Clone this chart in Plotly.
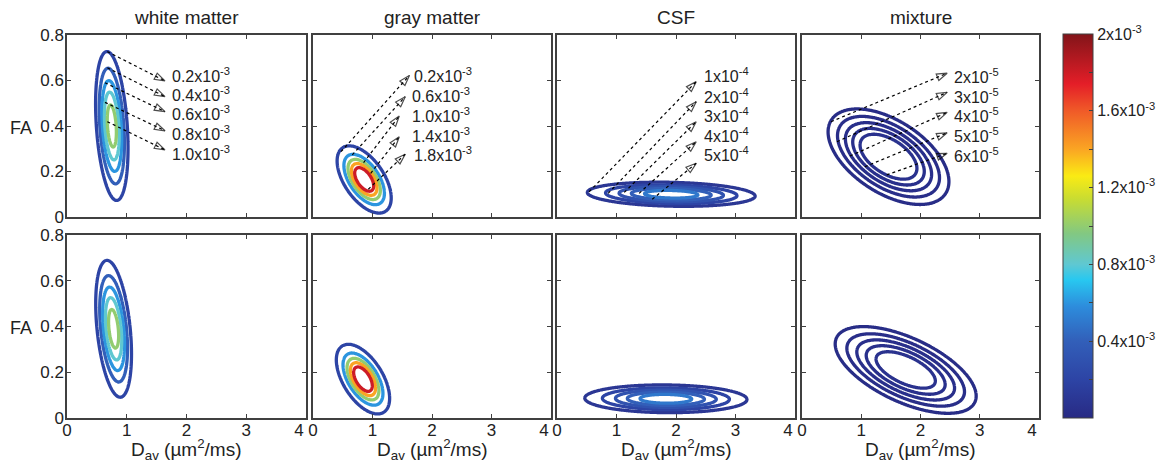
import numpy as np
import plotly.graph_objects as go
from plotly.colors import sample_colorscale

W, H = 1166, 464

# ---------------- data ----------------
col_titles = ["white matter", "gray matter", "CSF", "mixture"]

# bivariate Gaussian density parameters for each panel (top row, then bottom row)
mu_dav = [0.75, 0.86, 1.92, 1.46, 0.78, 0.84, 1.83, 1.75]
mu_fa = [0.40, 0.165, 0.10, 0.265, 0.39, 0.17, 0.084, 0.21]
sd_dav = [0.145, 0.203, 0.745, 0.607, 0.16, 0.20, 0.72, 0.728]
sd_fa = [0.175, 0.066, 0.028, 0.125, 0.16, 0.068, 0.032, 0.116]
rho = [-0.30, -0.55, -0.15, -0.52, -0.37, -0.55, -0.05, -0.60]
peak = [1.15e-3, 2.45e-3, 6.0e-4, 8.2e-5, 1.15e-3, 2.45e-3, 6.0e-4, 7.6e-5]

# contour levels per column
levels = [
    [0.2e-3, 0.4e-3, 0.6e-3, 0.8e-3, 1.0e-3],
    [0.2e-3, 0.6e-3, 1.0e-3, 1.4e-3, 1.8e-3],
    [1e-4, 2e-4, 3e-4, 4e-4, 5e-4],
    [2e-5, 3e-5, 4e-5, 5e-5, 6e-5],
]

# level labels (top row)
level_labels = [
    ["0.2x10<sup>-3</sup>", "0.4x10<sup>-3</sup>", "0.6x10<sup>-3</sup>", "0.8x10<sup>-3</sup>", "1.0x10<sup>-3</sup>"],
    ["0.2x10<sup>-3</sup>", "0.6x10<sup>-3</sup>", "1.0x10<sup>-3</sup>", "1.4x10<sup>-3</sup>", "1.8x10<sup>-3</sup>"],
    ["1x10<sup>-4</sup>", "2x10<sup>-4</sup>", "3x10<sup>-4</sup>", "4x10<sup>-4</sup>", "5x10<sup>-4</sup>"],
    ["2x10<sup>-5</sup>", "3x10<sup>-5</sup>", "4x10<sup>-5</sup>", "5x10<sup>-5</sup>", "6x10<sup>-5</sup>"],
]
# marker dots on contours
dot_x = [[0.675, 0.675, 0.636, 0.636, 0.675],
         [0.47, 0.66, 0.85, 0.97, 0.93],
         [0.54, 0.86, 1.13, 1.38, 1.60],
         [0.49, 0.59, 0.81, 1.06, 1.43]]
dot_y = [[0.727, 0.656, 0.590, 0.504, 0.419],
         [0.287, 0.273, 0.239, 0.192, 0.122],
         [0.111, 0.104, 0.108, 0.104, 0.078],
         [0.419, 0.331, 0.268, 0.221, 0.185]]
# arrow heads
head_x = [[1.64, 1.64, 1.64, 1.64, 1.64],
          [1.62, 1.55, 1.45, 1.45, 1.55],
          [2.34, 2.34, 2.34, 2.34, 2.34],
          [2.45, 2.45, 2.45, 2.45, 2.45]]
head_y = [[0.598, 0.529, 0.463, 0.379, 0.295],
          [0.622, 0.529, 0.444, 0.353, 0.276],
          [0.595, 0.507, 0.419, 0.331, 0.236],
          [0.632, 0.548, 0.460, 0.370, 0.280]]
# label anchors
label_x = [[1.72, 1.72, 1.72, 1.72, 1.72],
           [1.67, 1.63, 1.63, 1.63, 1.67],
           [2.43, 2.43, 2.43, 2.43, 2.43],
           [2.53, 2.53, 2.53, 2.53, 2.53]]
label_y = [[0.624, 0.539, 0.456, 0.368, 0.283],
           [0.624, 0.536, 0.448, 0.360, 0.277],
           [0.624, 0.533, 0.448, 0.360, 0.277],
           [0.620, 0.532, 0.448, 0.360, 0.273]]

x_ticks = [0, 1, 2, 3, 4]
x_ticktext = ["0", "1", "2", "3", "4"]
y_ticks = [0, 0.2, 0.4, 0.6, 0.8]
cbar_ticks = [0.2e-3, 0.4e-3, 0.6e-3, 0.8e-3, 1.0e-3, 1.2e-3, 1.4e-3, 1.6e-3, 1.8e-3, 2.0e-3]
cbar_text = ["", "0.4x10<sup>-3</sup>", "", "0.8x10<sup>-3</sup>", "", "1.2x10<sup>-3</sup>", "",
             "1.6x10<sup>-3</sup>", "", "2x10<sup>-3</sup>"]
c_min, c_max = 0.0, 2.0e-3

# ---------------- style ----------------
FONT = "Liberation Sans, Arial, sans-serif"
TXT = "#222222"
AXC = "#404040"
jet_like = [
    [0.0, "rgb(40,42,132)"],
    [0.10, "rgb(45,68,165)"],
    [0.20, "rgb(50,95,185)"],
    [0.29, "rgb(45,140,220)"],
    [0.36, "rgb(40,200,240)"],
    [0.40, "rgb(95,200,210)"],
    [0.48, "rgb(130,200,130)"],
    [0.57, "rgb(200,220,50)"],
    [0.63, "rgb(250,235,20)"],
    [0.70, "rgb(250,165,35)"],
    [0.80, "rgb(240,90,40)"],
    [0.87, "rgb(228,30,40)"],
    [1.0, "rgb(130,20,25)"],
]

xd = [(67, 306), (313, 551), (557, 795), (802, 1039)]
yd = [(35, 217), (235, 418)]

dav = np.linspace(0, 4, 241)
fa = np.linspace(0, 0.8, 241)
DX, FY = np.meshgrid(dav, fa)

fig = go.Figure()
annotations = []

for k in range(8):
    r, c = divmod(k, 4)
    sfx = "" if k == 0 else str(k + 1)
    u = (DX - mu_dav[k]) / sd_dav[k]
    v = (FY - mu_fa[k]) / sd_fa[k]
    q = (u * u - 2 * rho[k] * u * v + v * v) / (1 - rho[k] ** 2)
    z = peak[k] * np.exp(-0.5 * q)
    lv = levels[c]
    step = lv[1] - lv[0]
    lo, hi = lv[0], lv[-1] + step * 0.01
    # per-trace colorscale so that each level gets the global colour of its value
    cols = sample_colorscale(jet_like, [(L - c_min) / (c_max - c_min) for L in lv])
    cs = [[(L - lo) / (hi - lo), col] for L, col in zip(lv, cols)] + [[1.0, cols[-1]]]
    fig.add_trace(go.Contour(
        x=dav, y=fa, z=z, xaxis="x" + sfx, yaxis="y" + sfx,
        colorscale=cs, autocontour=False,
        contours=dict(coloring="lines", start=lo, end=hi, size=step, showlabels=False),
        line=dict(width=3.3, smoothing=1),
        showscale=False, hoverinfo="skip",
    ))
    tt = x_ticktext[:-1] + [x_ticktext[-1] + "\u00a0\u00a0\u00a0"]
    fig.update_layout({
        "xaxis" + sfx: dict(
            domain=[xd[c][0] / W, xd[c][1] / W], anchor="y" + sfx, range=[0, 4],
            tickvals=x_ticks, ticktext=tt, showticklabels=(r == 1), ticks="inside", ticklen=4,
            tickcolor=AXC, showline=True, linecolor=AXC, linewidth=1.5, mirror="ticks",
            showgrid=False, zeroline=False, automargin=False, ticklabelstandoff=-4,
            tickfont=dict(family=FONT, size=17, color=TXT),
        ),
        "yaxis" + sfx: dict(
            domain=[(H - yd[r][1]) / H, (H - yd[r][0]) / H], anchor="x" + sfx, range=[0, 0.8],
            tickvals=y_ticks, showticklabels=(c == 0), ticks="inside", ticklen=4,
            tickcolor=AXC, showline=True, linecolor=AXC, linewidth=1.5, mirror="ticks",
            showgrid=False, zeroline=False, automargin=False, ticklabelstandoff=-2,
            tickfont=dict(family=FONT, size=17, color=TXT),
        ),
    })
    if r == 0:
        for i in range(5):
            fig.add_trace(go.Scatter(
                x=[dot_x[c][i], head_x[c][i]], y=[dot_y[c][i], head_y[c][i]],
                xaxis="x" + sfx, yaxis="y" + sfx, mode="lines+markers",
                line=dict(color="black", width=1.2, dash="dot"),
                marker=dict(symbol=["circle", "arrow-open"], size=[7, 11], color="black",
                            angleref="previous", line=dict(width=1.2, color="black")),
                showlegend=False, hoverinfo="skip",
            ))
            annotations.append(dict(
                x=label_x[c][i], y=label_y[c][i], xref="x" + sfx, yref="y" + sfx,
                text=level_labels[c][i], showarrow=False, xanchor="left", yanchor="middle",
                font=dict(family=FONT, size=16, color=TXT),
            ))
        annotations.append(dict(
            x=(xd[c][0] + xd[c][1]) / 2 / W, y=(H - 17) / H, xref="paper", yref="paper",
            text=col_titles[c], showarrow=False, xanchor="center", yanchor="middle",
            font=dict(family=FONT, size=19, color=TXT),
        ))
    else:
        annotations.append(dict(
            x=(xd[c][0] + xd[c][1]) / 2 / W, y=(H - 449) / H, xref="paper", yref="paper",
            text="D<sub>av</sub> (µm<sup>2</sup>/ms)", showarrow=False,
            xanchor="center", yanchor="middle",
            font=dict(family=FONT, size=19, color=TXT),
        ))
    if c == 0:
        annotations.append(dict(
            x=21 / W, y=(H - (128 + 200 * r)) / H, xref="paper", yref="paper",
            text="FA", showarrow=False, xanchor="center", yanchor="middle",
            font=dict(family=FONT, size=18, color=TXT),
        ))

# continuous colour bar (carried by an invisible marker trace)
fig.add_trace(go.Scatter(
    x=[None, None], y=[None, None], mode="markers", xaxis="x", yaxis="y",
    marker=dict(color=[c_min, c_max], cmin=c_min, cmax=c_max, colorscale=jet_like,
                showscale=True, opacity=0,
                colorbar=dict(
                    x=1063 / W, xanchor="left", xref="paper", xpad=0, ypad=0,
                    y=(H - 418) / H, yanchor="bottom", yref="paper",
                    len=(418 - 34) / H, lenmode="fraction", thickness=30,
                    outlinewidth=1, outlinecolor=AXC,
                    tickvals=cbar_ticks, ticktext=cbar_text, ticks="inside", ticklen=4,
                    tickcolor=AXC, tickfont=dict(family=FONT, size=16, color=TXT),
                )),
    showlegend=False, hoverinfo="skip",
))

fig.update_layout(
    width=W, height=H, margin=dict(l=0, r=0, t=0, b=0, autoexpand=False),
    paper_bgcolor="white", plot_bgcolor="white", showlegend=False,
    annotations=annotations, font=dict(family=FONT, color=TXT),
)

fig.write_html(
    "out.html",
    config={"displayModeBar": False},
    post_script="document.body.style.margin='0';document.body.style.padding='0';"
                "document.documentElement.style.overflow='hidden';",
)
